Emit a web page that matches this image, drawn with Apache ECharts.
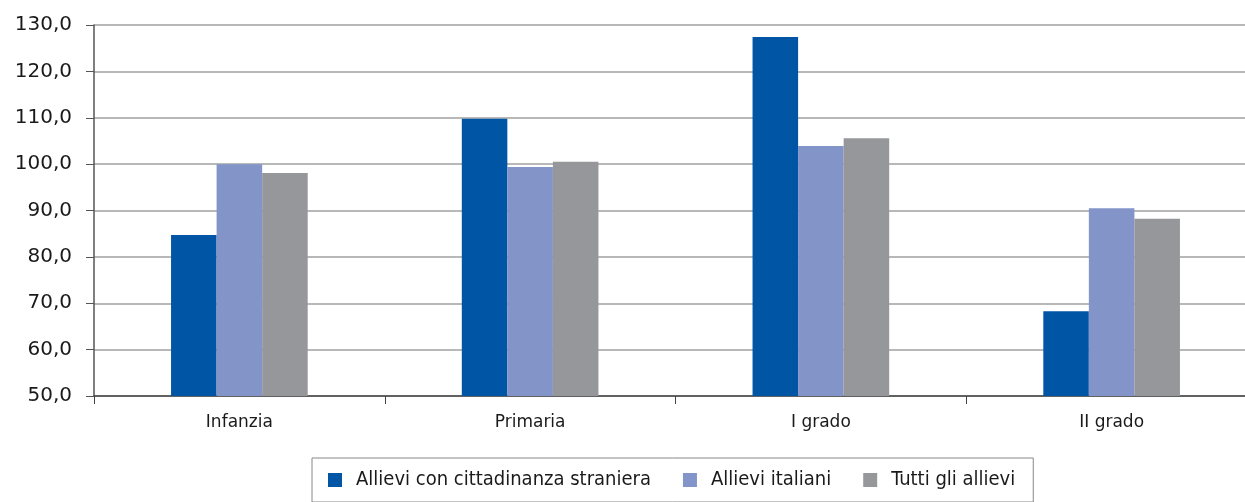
<!DOCTYPE html>
<html>
<head>
    <meta charset="utf-8">
    <title>Allievi</title>
    <script src="https://cdn.jsdelivr.net/npm/echarts@6/dist/echarts.min.js"></script>
    <style>
        html, body { margin: 0; padding: 0; background: #fff; overflow: hidden; }
        /* il grafico originale è tagliato a destra: il contenitore è più largo della finestra */
        #chart1 { width: 1257px; height: 502px; }
    </style>
</head>
<body>
<div id="chart1"></div>
<script type="text/javascript">
    // dati
    let categorie = ['Infanzia', 'Primaria', 'I grado', 'II grado'];
    let nomiSerie = ['Allievi con cittadinanza straniera', 'Allievi italiani', 'Tutti gli allievi'];
    let stranieri = [84.7, 109.8, 127.4, 68.3];
    let italiani = [100.0, 99.4, 103.9, 90.5];
    let tutti = [98.1, 100.5, 105.6, 88.2];
    let colori = ['#0055a5', '#8294c8', '#96979b'];

    let myChart1 = echarts.init(document.getElementById('chart1'));

    let serie = [stranieri, italiani, tutti].map(function (d, i) {
        return {
            name: nomiSerie[i],
            type: 'bar',
            data: d,
            barGap: '0%',
            barCategoryGap: '53%',
            itemStyle: { color: colori[i] }
        };
    });

    myChart1.setOption({
        animation: false,
        color: colori,
        grid: { left: 94, top: 25, right: 0, bottom: 106 },
        legend: {
            data: nomiSerie,
            left: 312,
            top: 458,
            icon: 'rect',
            itemWidth: 14,
            itemHeight: 14,
            itemGap: 32,
            padding: [12, 18, 12, 16],
            borderColor: '#888',
            borderWidth: 1,
            textStyle: {
                fontFamily: 'DejaVu Sans Condensed',
                fontSize: 20,
                color: '#1a1a1a',
                padding: [0, 0, 0, 9]
            }
        },
        xAxis: {
            type: 'category',
            data: categorie,
            axisLine: { lineStyle: { color: '#444', width: 1.5 } },
            axisTick: { show: true, length: 8, lineStyle: { color: '#444' } },
            axisLabel: { margin: 18, fontFamily: 'DejaVu Sans', fontSize: 17, color: '#1a1a1a' }
        },
        yAxis: {
            type: 'value',
            min: 50,
            max: 130,
            interval: 10,
            axisLine: { show: true, lineStyle: { color: '#555', width: 1.5 } },
            axisTick: { show: true, length: 8, lineStyle: { color: '#555' } },
            axisLabel: {
                margin: 22,
                fontFamily: 'DejaVu Sans',
                fontSize: 20,
                color: '#1a1a1a',
                formatter: function (v) { return v.toFixed(1).replace('.', ','); }
            },
            splitLine: { lineStyle: { color: '#a0a0a0', width: 1.5 } }
        },
        series: serie
    });
</script>
</body>
</html>
